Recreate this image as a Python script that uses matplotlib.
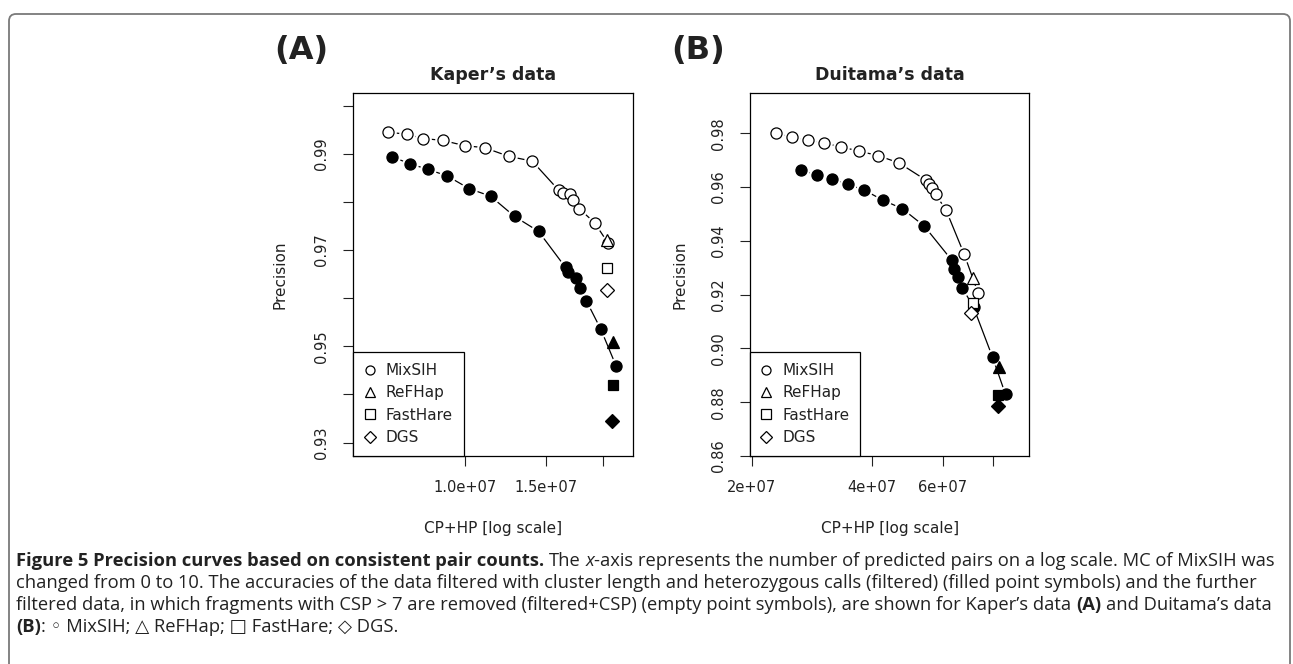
import matplotlib
matplotlib.use("Agg")
import matplotlib.pyplot as plt
from matplotlib.lines import Line2D
from matplotlib.patches import FancyBboxPatch
from matplotlib.ticker import NullLocator

# ---- data ----
# Kaper's data, MixSIH curve (MC 0..10)
kaper_cp_csp = [6.79e6, 7.45e6, 8.10e6, 8.94e6, 9.98e6, 1.102e7, 1.243e7, 1.400e7,
                1.601e7, 1.631e7, 1.689e7, 1.720e7, 1.773e7, 1.915e7, 2.051e7]
kaper_prec_csp = [0.9945, 0.9941, 0.9932, 0.9928, 0.9917, 0.9913, 0.9895, 0.9885,
                  0.9824, 0.9818, 0.9817, 0.9804, 0.9786, 0.9757, 0.9714]
kaper_cp_filt = [6.93e6, 7.59e6, 8.29e6, 9.14e6, 1.019e7, 1.136e7, 1.281e7, 1.445e7,
                 1.655e7, 1.677e7, 1.744e7, 1.779e7, 1.837e7, 1.977e7, 2.132e7]
kaper_prec_filt = [0.9894, 0.9879, 0.9868, 0.9854, 0.9828, 0.9812, 0.9770, 0.9739,
                   0.9664, 0.9654, 0.9641, 0.9621, 0.9595, 0.9535, 0.9460]

# Duitama's data, MixSIH curve
duit_cp_csp = [2.296e7, 2.517e7, 2.764e7, 3.024e7, 3.335e7, 3.706e7, 4.141e7, 4.664e7,
               5.445e7, 5.530e7, 5.647e7, 5.755e7, 6.107e7, 6.785e7, 7.354e7]
duit_prec_csp = [0.9802, 0.9785, 0.9775, 0.9764, 0.9750, 0.9734, 0.9717, 0.9690,
                 0.9626, 0.9612, 0.9598, 0.9573, 0.9516, 0.9350, 0.9205]
duit_cp_filt = [2.660e7, 2.905e7, 3.178e7, 3.485e7, 3.820e7, 4.245e7, 4.752e7, 5.394e7,
                6.310e7, 6.407e7, 6.544e7, 6.709e7, 7.159e7, 7.985e7, 8.602e7]
duit_prec_filt = [0.9664, 0.9645, 0.9631, 0.9610, 0.9589, 0.9552, 0.9520, 0.9455,
                  0.9329, 0.9294, 0.9264, 0.9226, 0.9153, 0.8967, 0.8829]

# other methods: ReFHap, FastHare, DGS
methods = ["ReFHap", "FastHare", "DGS"]
method_markers = ["^", "s", "D"]
kaper_oth_cp_csp = [2.034e7, 2.041e7, 2.034e7]
kaper_oth_prec_csp = [0.9721, 0.9662, 0.9617]
kaper_oth_cp_filt = [2.103e7, 2.103e7, 2.094e7]
kaper_oth_prec_filt = [0.9508, 0.9420, 0.9344]
duit_oth_cp_csp = [7.119e7, 7.119e7, 7.051e7]
duit_oth_prec_csp = [0.9263, 0.9168, 0.9133]
duit_oth_cp_filt = [8.294e7, 8.247e7, 8.247e7]
duit_oth_prec_filt = [0.8930, 0.8827, 0.8787]

W, H = 1293, 664
fig = plt.figure(figsize=(W / 100, H / 100), dpi=100)
plt.rcParams['font.family'] = ['DejaVu Sans']

MS = 8.0
msizes = {"o": MS, "^": MS, "s": MS * 0.9, "D": MS * 0.85}


def curve(ax, x, y, filled):
    fc = "black" if filled else "white"
    ax.plot(x, y, "-", color="black", lw=0.9, zorder=2)
    ax.plot(x, y, "o", ms=MS * 1.5, mfc="white", mec="none", zorder=3)
    ax.plot(x, y, "o", ms=MS, mfc=fc, mec="black", mew=0.9, zorder=4)


def others(ax, xs, ys, filled):
    fc = "black" if filled else "white"
    for xi, yi, m in zip(xs, ys, method_markers):
        ax.plot([xi], [yi], m, ms=msizes[m], mfc=fc, mec="black", mew=0.9, zorder=5)


def panel(rect, xlim, ylim, xt, xtl, yt, ytl, title, letter):
    ax = fig.add_axes(rect)
    ax.set_xscale("log")
    ax.set_xlim(xlim)
    ax.set_ylim(ylim)
    ax.set_xticks(xt)
    ax.set_xticklabels(xtl)
    ax.xaxis.set_minor_locator(NullLocator())
    ax.set_yticks(yt)
    ax.set_yticklabels(ytl, rotation=90, va="center")
    ax.tick_params(axis="both", length=7.5, width=0.8, pad=10, labelsize=10.5,
                   colors="#222222")
    for s in ax.spines.values():
        s.set_linewidth(0.9)
    ax.set_ylabel("Precision", fontsize=11, color="#222222")
    ax.yaxis.set_label_coords(-0.234, 0.5)
    ax.set_xlabel("CP+HP [log scale]", fontsize=11, color="#222222")
    ax.xaxis.set_label_coords(0.5, -0.178)
    ax.text(0.5, 1.0505, title, transform=ax.transAxes, ha="center", va="center",
            fontsize=12.5, fontweight="bold", color="#222222")
    ax.text(-0.185, 1.119, letter, transform=ax.transAxes, ha="center", va="center",
            fontsize=23, fontweight="bold", color="#222222")
    handles = [Line2D([], [], ls="none", marker=m, ms=6.5, mfc="white", mec="black", mew=0.9)
               for m in ["o", "^", "s", "D"]]
    leg = ax.legend(handles, ["MixSIH"] + methods, loc="lower left", borderaxespad=0,
                    fancybox=False, framealpha=1, edgecolor="black", fontsize=11,
                    handlelength=0.7, handletextpad=0.7, labelspacing=0.48,
                    borderpad=0.72)
    leg.get_frame().set_linewidth(0.9)
    for t in leg.get_texts():
        t.set_color("#222222")
    return ax


axA = panel([0.2732, 0.3133, 0.2161, 0.5462], (5.697e6, 2.319e7), (0.9272, 1.0026),
            [1e7, 1.5e7, 2e7], ["1.0e+07", "1.5e+07", ""],
            [0.93, 0.94, 0.95, 0.96, 0.97, 0.98, 0.99, 1.00],
            ["0.93", "", "0.95", "", "0.97", "", "0.99", ""],
            "Kaper\u2019s data", "(A)")
curve(axA, kaper_cp_csp, kaper_prec_csp, False)
curve(axA, kaper_cp_filt, kaper_prec_filt, True)
others(axA, kaper_oth_cp_csp, kaper_oth_prec_csp, False)
others(axA, kaper_oth_cp_filt, kaper_oth_prec_filt, True)

axB = panel([0.5800, 0.3133, 0.2160, 0.5462], (1.981e7, 9.857e7), (0.86, 0.9949),
            [2e7, 4e7, 6e7, 8e7], ["2e+07", "4e+07", "6e+07", ""],
            [0.86, 0.88, 0.90, 0.92, 0.94, 0.96, 0.98],
            ["0.86", "0.88", "0.90", "0.92", "0.94", "0.96", "0.98"],
            "Duitama\u2019s data", "(B)")
axB.yaxis.set_label_coords(-0.222, 0.5)
curve(axB, duit_cp_csp, duit_prec_csp, False)
curve(axB, duit_cp_filt, duit_prec_filt, True)
others(axB, duit_oth_cp_csp, duit_oth_prec_csp, False)
others(axB, duit_oth_cp_filt, duit_oth_prec_filt, True)

# rounded frame around the figure + caption
frame = FancyBboxPatch((9, -30), 1281, 680, boxstyle="round,pad=0,rounding_size=7",
                       transform=None, fill=False, edgecolor="#7a7a7a", lw=1.3,
                       clip_on=False)
fig.add_artist(frame)

cap_fam = ["Open Sans", "DejaVu Sans"]
renderer = fig.canvas.get_renderer()
N = "normal"
line2 = ("changed from 0 to 10. The accuracies of the data filtered with cluster length "
         "and heterozygous calls (filtered) (filled point symbols) and the further")


def text_w(s, size, **kw):
    t = fig.text(0, 0, s, fontsize=size, family=cap_fam, **kw)
    w = t.get_window_extent(renderer).width
    t.remove()
    return w


# scale the caption so the second line spans the same width as in the original
cap_size = 11.0 * 1241.0 / text_w(line2, 11.0)
space_w = text_w("a a", cap_size) - text_w("aa", cap_size)


def caption_line(y_px, parts):
    x = 16.0
    for s, w, st in parts:
        if s.startswith(" "):
            x += space_w
            s = s[1:]
        t = fig.text(x / W, 1 - y_px / H, s, fontsize=cap_size, family=cap_fam,
                     fontweight=w, style=st, ha="left", va="center", color="#222222")
        x = t.get_window_extent(renderer).x1


caption_line(561, [("Figure 5 Precision curves based on consistent pair counts.", "bold", N),
                   (" The", N, N), (" x", N, "italic"),
                   ("-axis represents the number of predicted pairs on a log scale. MC of MixSIH was", N, N)])
caption_line(583, [(line2, N, N)])
caption_line(605, [("filtered data, in which fragments with CSP > 7 are removed (filtered+CSP) "
                    "(empty point symbols), are shown for Kaper\u2019s data", N, N),
                   (" (A)", "bold", N), (" and Duitama\u2019s data", N, N)])
caption_line(627, [("(B)", "bold", N),
                   (": \u25e6 MixSIH; \u25b3 ReFHap; \u25a1 FastHare; \u25c7 DGS.", N, N)])

fig.savefig("out.png", dpi=100)
